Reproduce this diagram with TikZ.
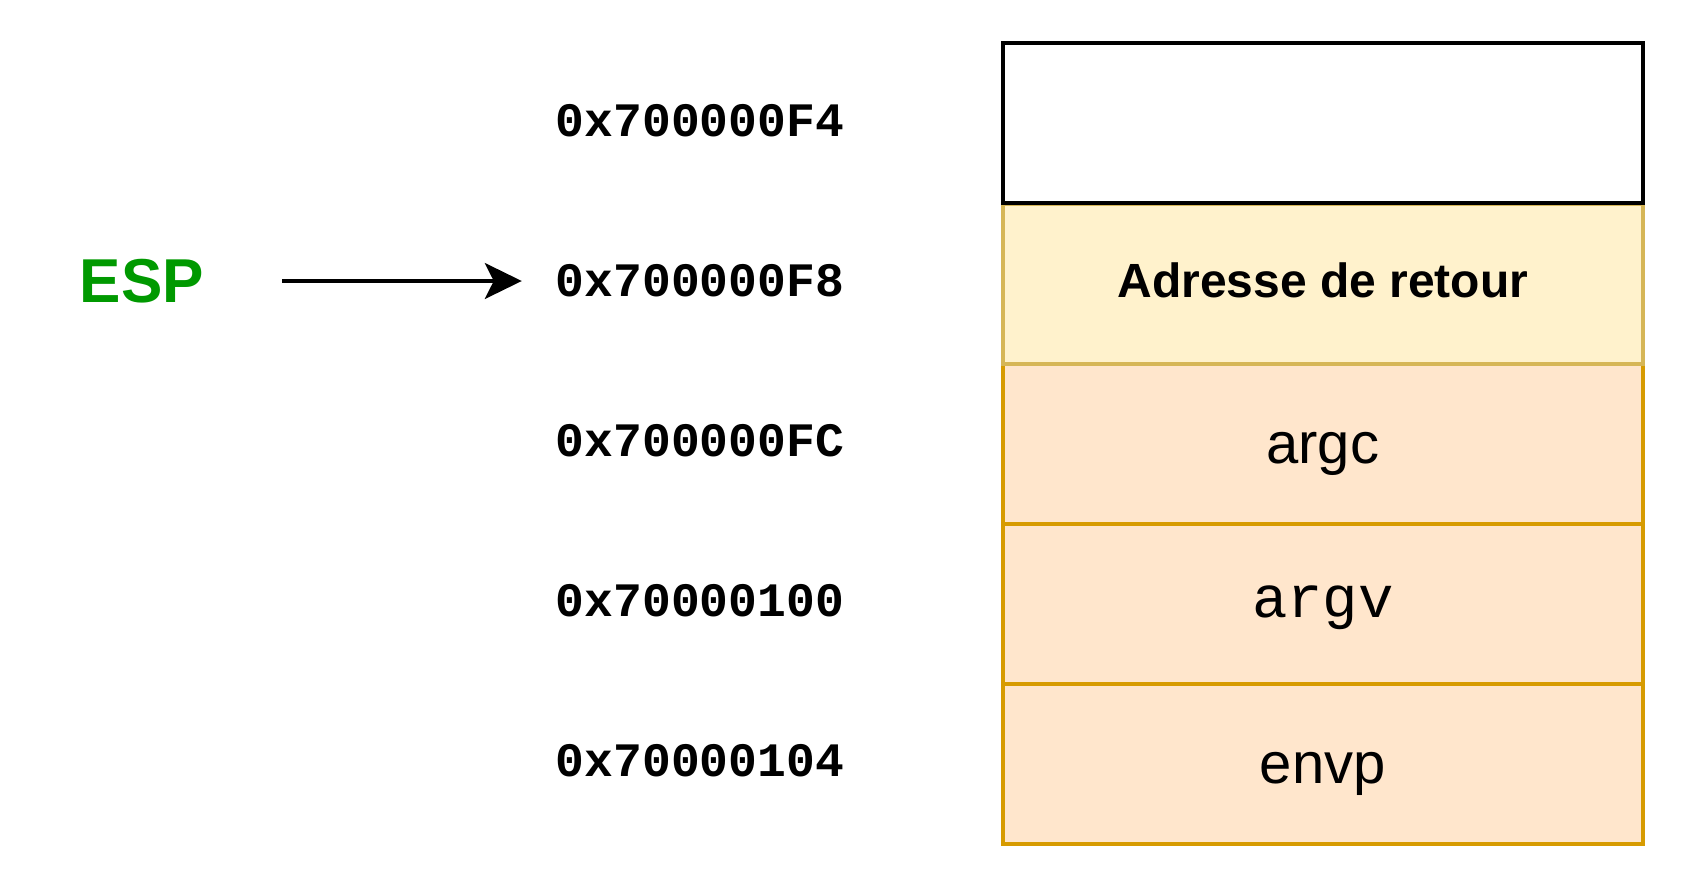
\documentclass[tikz,border=0pt]{standalone}
\usepackage{fontspec}
\setmainfont{Liberation Sans}
\newfontfamily\monofont{Liberation Mono}
\usetikzlibrary{arrows.meta}
\definecolor{espgreen}{HTML}{009900}
\definecolor{yfill}{HTML}{FFF2CC}
\definecolor{ydraw}{HTML}{D6B656}
\definecolor{ofill}{HTML}{FFE6CC}
\definecolor{odraw}{HTML}{D79B00}
\tikzset{
  cell/.style={rectangle, minimum width=640pt, minimum height=160pt, inner sep=0pt, line width=3.6pt, anchor=north west},
  txt/.style={inner sep=0pt, anchor=base},
  addr/.style={txt, font=\monofont\bfseries\fontsize{48}{56}\selectfont},
}
\begin{document}
\begin{tikzpicture}[x=1pt,y=-1pt]
\useasboundingbox (0,0) rectangle (1684,884);
% cells drawn bottom to top so upper borders lie on top
\node[cell, fill=ofill, draw=odraw] (envp) at (1001,682) {};
\node[cell, fill=ofill, draw=odraw] (argv) at (1001,522) {};
\node[cell, fill=ofill, draw=odraw] (argc) at (1001,362) {};
\node[cell, fill=yfill, draw=ydraw] (ret) at (1001,202) {};
\node[cell, fill=white, draw=black] (top) at (1001,41) {};
\node[txt, font=\bfseries\fontsize{48}{56}\selectfont] (rett) at ([yshift=-13.4pt]ret.center) {Adresse de retour};
\node[txt, font=\fontsize{58}{66}\selectfont] (argct) at ([yshift=-20.1pt]argc.center) {argc};
\node[txt, font=\monofont\fontsize{59}{66}\selectfont] (argvt) at ([yshift=-14pt]argv.center) {argv};
\node[txt, font=\fontsize{58}{66}\selectfont] (envpt) at ([yshift=-20.1pt]envp.center) {envp};
% addresses
\node[addr] (a1) at (700,136) {0x700000F4};
\node[addr] (a2) at (700,296) {0x700000F8};
\node[addr] (a3) at (700,456) {0x700000FC};
\node[addr] (a4) at (700,616) {0x70000100};
\node[addr] (a5) at (700,776) {0x70000104};
% ESP
\node[txt, text=espgreen, font=\bfseries\fontsize{62}{70}\selectfont] (esp) at (142,302.5) {ESP};
\coordinate (arrowstart) at ([xshift=78pt]esp.east |- 0,281);
\coordinate (arrowend) at ([xshift=-34pt]a2.west |- 0,281);
\draw[line width=3.2pt, -{Stealth[length=37pt,width=36pt,inset=9pt]}] (arrowstart) -- (arrowend);
\end{tikzpicture}
\end{document}
